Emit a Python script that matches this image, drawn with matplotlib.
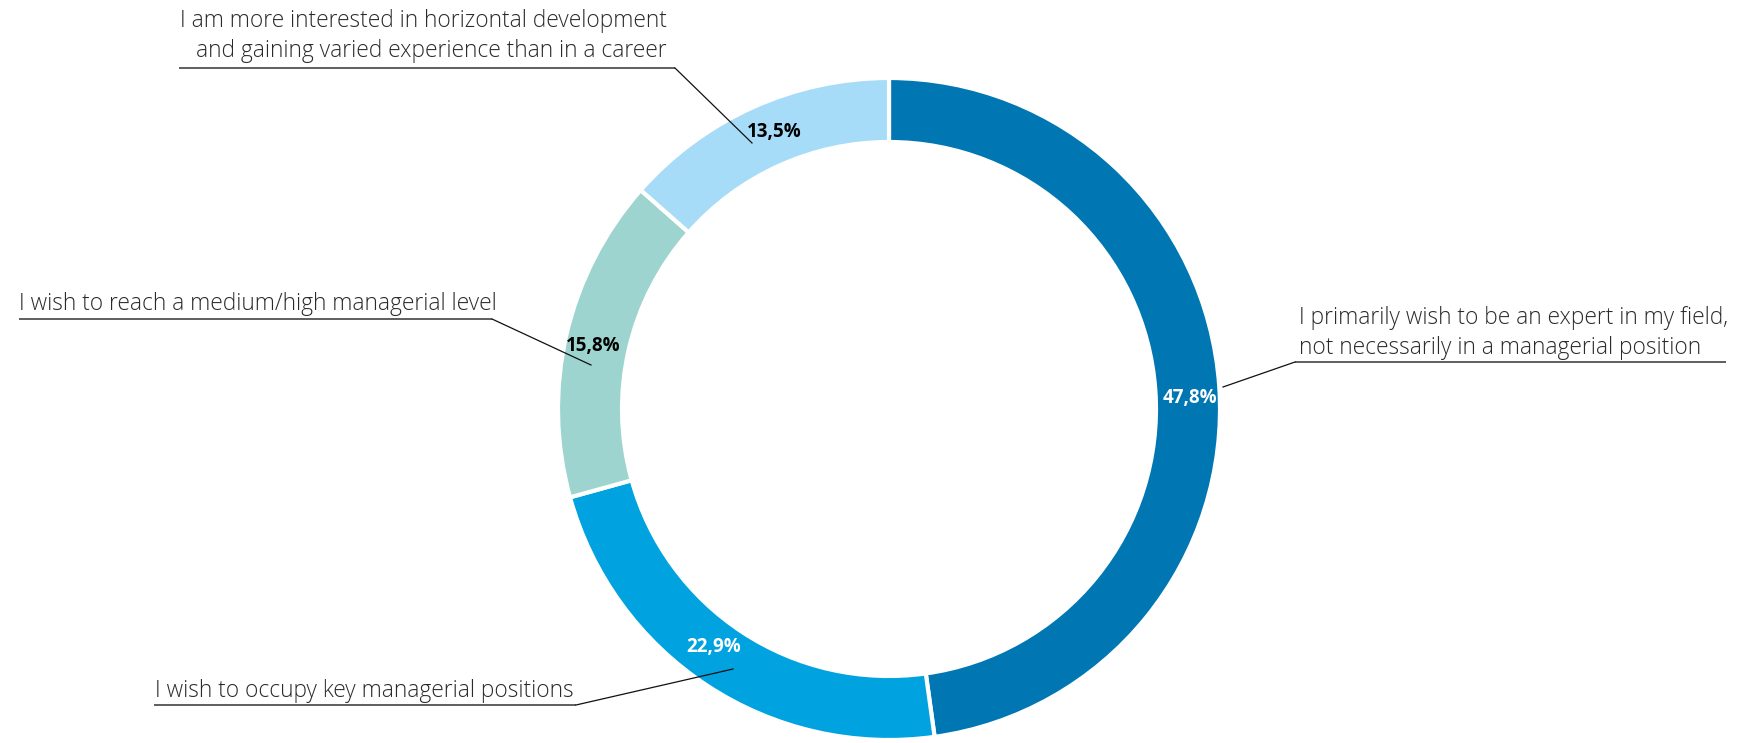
import matplotlib
matplotlib.use("Agg")
import matplotlib.pyplot as plt

categories = [
    "I primarily wish to be an expert in my field,\nnot necessarily in a managerial position",
    "I wish to occupy key managerial positions",
    "I wish to reach a medium/high managerial level",
    "I am more interested in horizontal development\nand gaining varied experience than in a career",
]
shares = [47.8, 22.9, 15.8, 13.5]
value_labels = ["47,8%", "22,9%", "15,8%", "13,5%"]
colors = ["#0077B3", "#00A3E0", "#9DD4CF", "#A6DCF7"]
value_colors = ["white", "white", "black", "black"]

W, H = 1754, 743
fig = plt.figure(figsize=(W / 100, H / 100), dpi=100)
ax = fig.add_axes([0, 0, 1, 1])
ax.axis("off")

cx, cy, R = 889, H - 409, 331
ax.pie(shares, colors=colors, startangle=90, counterclock=False,
       center=(cx, cy), radius=R,
       wedgeprops=dict(width=64, edgecolor="white", linewidth=3))
ax.set_xlim(0, W)
ax.set_ylim(0, H)
ax.set_aspect("equal")

font = ["Open Sans", "DejaVu Sans"]

# value labels on the ring (image-space positions)
value_pos = [(1190, 398), (714, 647), (593, 346), (774, 132)]
for (x, y), txt, c in zip(value_pos, value_labels, value_colors):
    ax.text(x, H - y, txt, color=c, fontsize=13.5, fontweight="bold",
            family=font, ha="center", va="center")

# category labels with underline and leader line
# (text x, text y, ha, underline x0, x1, underline y, leader start x, leader end)
callouts = [
    (1299, 333, "left", 1295, 1726, 362, 1295, (1223, 387)),
    (155, 691, "left", 154, 576, 705, 576, (733, 669)),
    (19, 304, "left", 19, 492, 319, 492, (591, 365)),
    (667, 36, "right", 179, 675, 68, 675, (752, 143)),
]
for (tx, ty, ha, x0, x1, uy, jx, end), label in zip(callouts, categories):
    ax.text(tx, H - ty, label, fontsize=16.4, fontweight="light", family=font,
            color="#2a2a2a", ha=ha, va="center",
            multialignment="right" if ha == "right" else "left",
            linespacing=1.3)
    ax.plot([x0, x1], [H - uy, H - uy], color="#333333", lw=1.1,
            solid_capstyle="butt")
    ax.plot([jx, end[0]], [H - uy, H - end[1]], color="#111111", lw=0.9)

fig.savefig("out.png", dpi=100, facecolor="white")
